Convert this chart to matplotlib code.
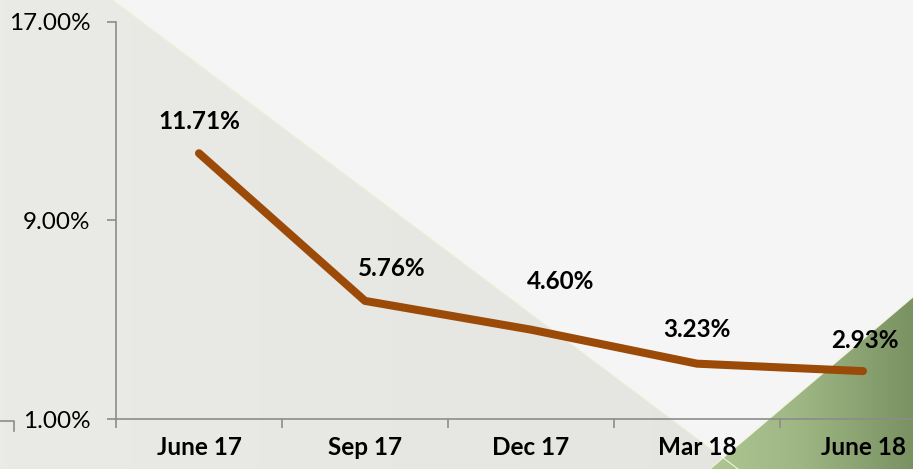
"""Quarterly rate chart - line with data labels on a decorated background."""
import numpy as np
import matplotlib
matplotlib.use("Agg")
import matplotlib.pyplot as plt
from matplotlib.patches import Polygon

# Data
quarters = ["June 17", "Sep 17", "Dec 17", "Mar 18", "June 18"]
rates = [11.71, 5.76, 4.60, 3.23, 2.93]
labels = ["11.71%", "5.76%", "4.60%", "3.23%", "2.93%"]
y_ticks = [1, 9, 17]

# label centre offsets (points) relative to each point
label_offsets = [(0, 23), (19, 23), (21.5, 34.5), (0, 24.5), (1, 22)]

W, H = 913, 469
fig = plt.figure(figsize=(W / 100, H / 100), dpi=100)
fig.patch.set_facecolor("#f5f5f5")

# === Background decoration (pixel coords) ===
bg = fig.add_axes([0, 0, 1, 1])
bg.set_xlim(0, W)
bg.set_ylim(H, 0)
bg.axis("off")

grad = np.tile(np.linspace(0, 1, 200), (50, 1))

# gray triangle from top-left
gray_cmap = matplotlib.colors.LinearSegmentedColormap.from_list("g", ["#eaeae6", "#e3e3df"])
im = bg.imshow(grad, cmap=gray_cmap, extent=[0, W, H, 0], aspect="auto", zorder=0)
tri_gray = Polygon([(0, 0), (113, 0), (738, H), (0, H)], closed=True,
                   facecolor="none", edgecolor="none")
bg.add_patch(tri_gray)
im.set_clip_path(tri_gray)
bg.plot([113, 738], [0, H], color="#f2f2dc", lw=0.8, zorder=1)

# green triangle bottom-right
green_cmap = matplotlib.colors.LinearSegmentedColormap.from_list(
    "gr", ["#b2c995", "#9db683", "#7a9262"])
im2 = bg.imshow(grad, cmap=green_cmap, extent=[690, W, H, 290], aspect="auto", zorder=0)
tri_green = Polygon([(710, H), (W, 297), (W, H)], closed=True,
                    facecolor="none", edgecolor="none")
bg.add_patch(tri_green)
im2.set_clip_path(tri_green)
bg.plot([710, W], [H, 297], color="#f4f4dc", lw=0.8, zorder=1)

# stray bracket at the bottom-left corner
bg.plot([0, 14, 14], [421, 421, 431], color="#8c8c8c", lw=1.2)

# === Main chart ===
left, right = 116, 946
top, bottom = 22, 419
ax = fig.add_axes([left / W, (H - bottom) / H, (right - left) / W, (bottom - top) / H])
ax.patch.set_alpha(0)

x = np.arange(len(quarters))
ax.plot(x, rates, color="#9b4a08", lw=5.8, solid_capstyle="round",
        solid_joinstyle="round", zorder=3, clip_on=False)

for xi, yi, lbl, (dx, dy) in zip(x, rates, labels, label_offsets):
    ax.annotate(lbl, (xi, yi), xytext=(dx, dy), textcoords="offset points",
                ha="center", va="center", fontsize=17.5, fontweight="bold",
                family="Lato", color="black")

ax.set_xlim(-0.5, len(quarters) - 0.5)
ax.set_ylim(1, 17)
ax.set_yticks(y_ticks)
ax.set_yticklabels([f"{v:.2f}%" for v in y_ticks], fontsize=17.5, family="Lato")

ax.set_xticks(np.arange(-0.5, len(quarters)), minor=False)
ax.set_xticklabels([])
ax.set_xticks(x, minor=True)
ax.set_xticklabels(quarters, minor=True, fontsize=17.5, fontweight="bold", family="Lato")
ax.tick_params(axis="x", which="major", length=6.5, width=1.2, color="#8c8c8c", direction="out")
ax.tick_params(axis="x", which="minor", length=0, pad=12)
ax.tick_params(axis="y", length=6.5, width=1.2, color="#8c8c8c", pad=12)

for s in ["top", "right"]:
    ax.spines[s].set_visible(False)
for s in ["left", "bottom"]:
    ax.spines[s].set_color("#8c8c8c")
    ax.spines[s].set_linewidth(1.2)

fig.savefig("out.png", dpi=100, facecolor=fig.get_facecolor())
plt.close("all")
